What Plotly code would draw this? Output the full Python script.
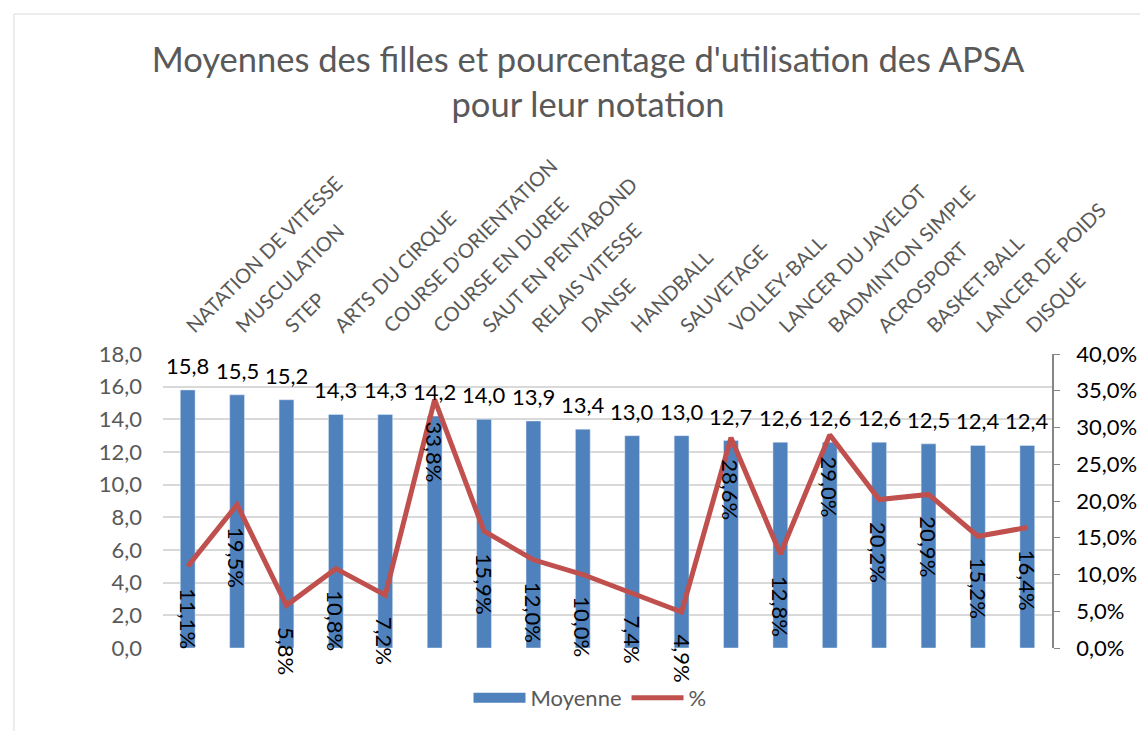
import plotly.graph_objects as go

categories = ["NATATION DE VITESSE", "MUSCULATION", "STEP", "ARTS DU CIRQUE",
              "COURSE D'ORIENTATION", "COURSE EN DUREE", "SAUT EN PENTABOND",
              "RELAIS VITESSE", "DANSE", "HANDBALL", "SAUVETAGE", "VOLLEY-BALL",
              "LANCER DU JAVELOT", "BADMINTON SIMPLE", "ACROSPORT", "BASKET-BALL",
              "LANCER DE POIDS", "DISQUE"]
moyenne = [15.8, 15.5, 15.2, 14.3, 14.3, 14.2, 14.0, 13.9, 13.4, 13.0, 13.0,
           12.7, 12.6, 12.6, 12.6, 12.5, 12.4, 12.4]
pourcentage = [11.1, 19.5, 5.8, 10.8, 7.2, 33.8, 15.9, 12.0, 10.0, 7.4, 4.9,
               28.6, 12.8, 29.0, 20.2, 20.9, 15.2, 16.4]

FONT = "Lato"
BLUE = "#4F81BD"
RED = "#C0504D"
GRAY = "#595959"

fig = go.Figure()
fig.add_trace(go.Bar(
    x=categories, y=moyenne, name="Moyenne", marker_color=BLUE,
    width=0.3, showlegend=False,
))
fig.add_trace(go.Scatter(
    x=categories, y=[p / 100 for p in pourcentage], name="%", yaxis="y2",
    mode="lines", line=dict(color=RED, width=5), showlegend=False,
))
# legend entries (Excel-style wide swatches)
fig.add_trace(go.Scatter(
    x=[None], y=[None], name="Moyenne", mode="lines",
    line=dict(color=BLUE, width=14), showlegend=True,
))
fig.add_trace(go.Scatter(
    x=[None], y=[None], name="%", mode="lines", yaxis="y2",
    line=dict(color=RED, width=5), showlegend=True,
))

annotations = []
for c, v in zip(categories, moyenne):
    annotations.append(dict(
        x=c, y=v, xref="x", yref="y", text=f"{v:.1f}".replace(".", ","),
        showarrow=False, xanchor="center", yanchor="bottom", yshift=9,
        font=dict(color="black", size=22, family=FONT),
    ))
for c, p in zip(categories, pourcentage):
    annotations.append(dict(
        x=c, y=p / 100, xref="x", yref="y2", text=f"{p:.1f}".replace(".", ",") + "%",
        textangle=90, showarrow=False, xanchor="center", yanchor="top", yshift=-20,
        font=dict(color="black", size=22, family=FONT),
    ))

def px_x(px):
    return (px - 163) / 889

def px_y(py):
    return (648 - py) / 294

shapes = [
    dict(type="line", xref="paper", yref="paper", x0=px_x(14), x1=px_x(1160),
         y0=px_y(14), y1=px_y(14), line=dict(color="#D9D9D9", width=1)),
    dict(type="line", xref="paper", yref="paper", x0=px_x(14), x1=px_x(14),
         y0=px_y(14), y1=px_y(740), line=dict(color="#D9D9D9", width=1)),
]

fig.update_layout(
    width=1148, height=731,
    margin=dict(l=155, r=104, t=346, b=91, autoexpand=False),
    paper_bgcolor="white", plot_bgcolor="white",
    separators=", ",
    font=dict(family=FONT, color=GRAY),
    title=dict(
        text="Moyennes des filles et pourcentage d'utilisation des APSA<br>pour leur notation",
        x=(588 - 8) / 1148, xanchor="center", yref="container", y=1 - 64 / 731,
        yanchor="middle",
        font=dict(size=34.5, color=GRAY, family=FONT),
    ),
    xaxis=dict(side="top", tickangle=-45, tickfont=dict(size=20, color=GRAY, family=FONT),
               showgrid=False, showline=False, ticks="", ticklabelstandoff=12,
               automargin=False),
    yaxis=dict(range=[0, 18], dtick=2, tickformat=".1f", showgrid=True,
               gridcolor="#D9D9D9", gridwidth=2, zeroline=False, showline=False,
               tickfont=dict(size=22, color=GRAY, family=FONT), ticks="",
               ticklabelstandoff=20, automargin=False),
    yaxis2=dict(range=[0, 0.4], dtick=0.05, tickformat=".1%", overlaying="y",
                side="right", showgrid=False, zeroline=False, showline=True,
                linecolor="#868686", linewidth=1.5, ticks="outside", ticklen=6,
                tickcolor="#868686", ticklabelstandoff=12, automargin=False,
                tickfont=dict(size=22, color="black", family=FONT)),
    legend=dict(orientation="h", xref="container", x=(590 - 8) / 1148, xanchor="center",
                yref="container", y=1 - (698 - 8) / 731, yanchor="middle", itemwidth=52,
                font=dict(size=22, color=GRAY, family=FONT)),
    annotations=annotations,
    shapes=shapes,
    bargap=0.7,
)

fig.write_html("out.html")
